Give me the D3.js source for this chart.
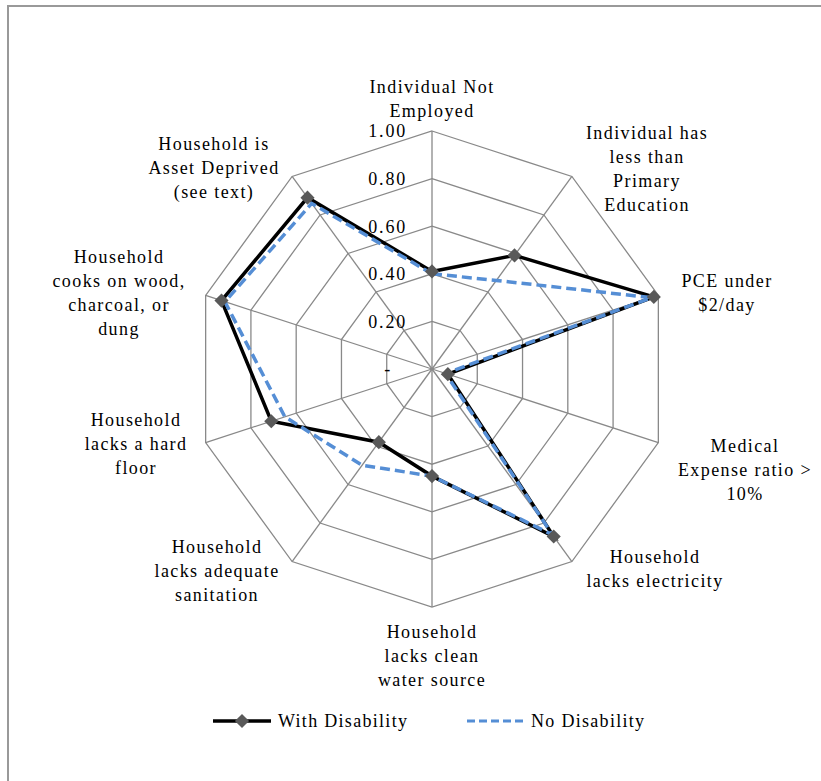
<!DOCTYPE html>
<html>
<head>
<meta charset="utf-8">
<script src="https://cdn.jsdelivr.net/npm/d3@7"></script>
<style>
  body { margin: 0; background: #fff; }
</style>
</head>
<body>
<script>
// categories, clockwise from the top
var categories = [
  ["Individual Not", "Employed"],
  ["Individual has", "less than", "Primary", "Education"],
  ["PCE under", "$2/day"],
  ["Medical", "Expense ratio >", "10%"],
  ["Household", "lacks electricity"],
  ["Household", "lacks clean", "water source"],
  ["Household", "lacks adequate", "sanitation"],
  ["Household", "lacks a hard", "floor"],
  ["Household", "cooks on wood,", "charcoal, or", "dung"],
  ["Household is", "Asset Deprived", "(see text)"]
];
var withDisability = [0.41, 0.59, 0.98, 0.07, 0.87, 0.45, 0.38, 0.71, 0.93, 0.89];
var noDisability   = [0.40, 0.46, 0.97, 0.06, 0.86, 0.45, 0.50, 0.65, 0.915, 0.86];
var ticks = [0, 0.2, 0.4, 0.6, 0.8, 1.0];
var tickLabels = ["-", "0.20", "0.40", "0.60", "0.80", "1.00"];

// label block centres, relative to the chart centre (layout only)
var labelPos = [[0,-270],[215,-200],[295,-76],[313,101],[223,200],[0,287],[-215,202],[-296,75],[-313,-76],[-218,-201]];

var width = 821, height = 781;
var cx = 432, cy = 369, R = 238;
var lineH = 24;
var FONT = "'Liberation Serif'";

var svg = d3.select("body").append("svg").attr("width", width).attr("height", height);

// outer frame
svg.append("rect").attr("x", 8).attr("y", 6).attr("width", 900).attr("height", 900)
  .attr("fill", "none").attr("stroke", "#999").attr("stroke-width", 2);

var r = d3.scaleLinear().domain([0, 1]).range([0, R]);
var angle = d3.scaleLinear().domain([0, categories.length]).range([0, 2 * Math.PI]);

var g = svg.append("g").attr("transform", "translate(" + cx + "," + cy + ")");

function pt(i, v) {
  var a = angle(i);
  return [Math.sin(a) * r(v), -Math.cos(a) * r(v)];
}

// rings
var ring = d3.line().curve(d3.curveLinearClosed);
ticks.slice(1).forEach(function(t) {
  g.append("path")
    .attr("d", ring(categories.map(function(c, i) { return pt(i, t); })))
    .attr("fill", "none").attr("stroke", "#898989").attr("stroke-width", 1.3);
});
// spokes
categories.forEach(function(c, i) {
  var p = pt(i, 1);
  g.append("line").attr("x1", 0).attr("y1", 0).attr("x2", p[0]).attr("y2", p[1])
    .attr("stroke", "#898989").attr("stroke-width", 1.3);
});

// tick labels
ticks.forEach(function(t, i) {
  g.append("text").attr("x", i === 0 ? -40 : -25).attr("y", -r(t))
    .attr("dy", "0.35em").attr("text-anchor", "end")
    .style("font-family", FONT)
    .style("font-size", "18px").style("letter-spacing", "1.8px")
    .text(tickLabels[i]);
});

// category labels
categories.forEach(function(lines, i) {
  var p = labelPos[i];
  var t = g.append("text").attr("text-anchor", "middle")
    .style("font-family", FONT)
    .style("font-size", "18px").style("letter-spacing", "1.4px");
  lines.forEach(function(s, k) {
    t.append("tspan").attr("x", p[0])
      .attr("y", p[1] + (k - (lines.length - 1) / 2) * lineH)
      .attr("dy", "0.35em").text(s);
  });
});

var radial = d3.lineRadial()
  .angle(function(d, i) { return angle(i); })
  .radius(function(d) { return r(d); })
  .curve(d3.curveLinearClosed);

g.append("path").attr("d", radial(withDisability))
  .attr("fill", "none").attr("stroke", "#000").attr("stroke-width", 3.5)
  .attr("stroke-linejoin", "miter");

g.append("path").attr("d", radial(noDisability))
  .attr("fill", "none").attr("stroke", "#558ED5").attr("stroke-width", 3.5)
  .attr("stroke-dasharray", "10,5");

var diamond = d3.symbol().type(d3.symbolSquare).size(100);
g.selectAll(".mk").data(withDisability).enter().append("path")
  .attr("class", "mk")
  .attr("d", diamond)
  .attr("transform", function(d, i) { var p = pt(i, d); return "translate(" + p[0] + "," + p[1] + ") rotate(45)"; })
  .attr("fill", "#595959");

// legend
var lg = svg.append("g").attr("transform", "translate(0,721)");
lg.append("line").attr("x1", 213).attr("x2", 271).attr("y1", 0).attr("y2", 0)
  .attr("stroke", "#000").attr("stroke-width", 3.5);
lg.append("path").attr("d", diamond).attr("transform", "translate(242,0) rotate(45)").attr("fill", "#595959");
lg.append("text").attr("x", 278).attr("y", 0).attr("dy", "0.35em")
  .style("font-family", FONT)
  .style("font-size", "18px").style("letter-spacing", "1.3px").text("With Disability");
lg.append("line").attr("x1", 467).attr("x2", 525).attr("y1", 0).attr("y2", 0)
  .attr("stroke", "#558ED5").attr("stroke-width", 3).attr("stroke-dasharray", "8,4");
lg.append("text").attr("x", 531).attr("y", 0).attr("dy", "0.35em")
  .style("font-family", FONT)
  .style("font-size", "18px").style("letter-spacing", "1.3px").text("No Disability");
</script>
</body>
</html>
